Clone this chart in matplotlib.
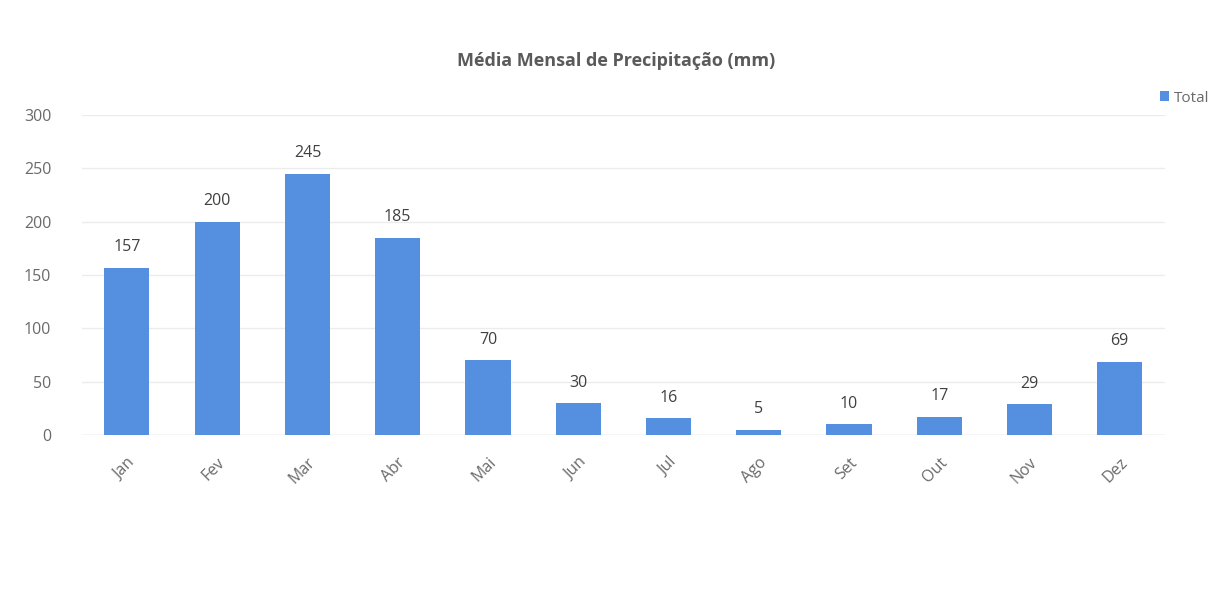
import numpy as np
import matplotlib.pyplot as plt

meses = ["Jan", "Fev", "Mar", "Abr", "Mai", "Jun", "Jul", "Ago", "Set", "Out", "Nov", "Dez"]
total = [157, 200, 245, 185, 70, 30, 16, 5, 10, 17, 29, 69]

plt.rcParams['font.family'] = ['Open Sans', 'DejaVu Sans']

fig = plt.figure(figsize=(12.21, 6.06), dpi=100)
ax = fig.add_axes([0.067, 0.282, 0.887, 0.528])

x = np.arange(len(meses))
bars = ax.bar(x, total, width=0.5, color='#5590e0', label='Total', zorder=2)

for xi, v in zip(x, total):
    ax.annotate(str(v), (xi, v), xytext=(0, 9), textcoords='offset points',
                ha='center', va='bottom', fontsize=11.5, color='#404040')

ax.set_xlim(-0.5, len(meses) - 0.5)
ax.set_ylim(0, 300)
ax.set_yticks(range(0, 301, 50))
ax.set_xticks(x)
ax.set_xticklabels(meses, rotation=45, ha='right', rotation_mode='anchor')
ax.tick_params(axis='both', length=0, labelsize=11.5, colors='#6a6a6a')
ax.tick_params(axis='x', pad=14)
ax.tick_params(axis='y', pad=22)
ax.grid(axis='y', color='#ececec', linewidth=1, zorder=0)
for s in ax.spines.values():
    s.set_visible(False)
ax.axhline(0, color='#dddddd', linewidth=1, zorder=1)

fig.text(0.505, 0.9, 'Média Mensal de Precipitação (mm)', ha='center', va='center',
         fontsize=13, fontweight='bold', color='#5a5a5a')

leg = fig.legend(loc='center', bbox_to_anchor=(0.97, 0.838), frameon=False,
                 fontsize=11, handlelength=0.6, handleheight=0.6, handletextpad=0.3)
for t in leg.get_texts():
    t.set_color('#6a6a6a')

fig.savefig('out.png', dpi=100)
